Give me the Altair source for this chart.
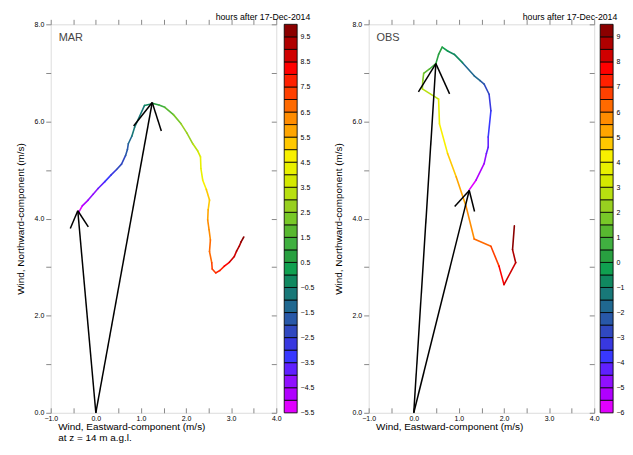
import math
import altair as alt
import pandas as pd

# ---------------- data ----------------
# MAR (model) hodograph: hours after 17-Dec-2014, eastward (u) and northward (v) wind, m/s
mar_hours = [-5.5, -5.0, -4.5, -4.1, -3.7, -3.2, -2.8, -2.5, -2.2, -1.9, -1.6, -1.3, -1.0, -0.6,
             -0.2, 0.5, 1.0, 1.5, 2.0, 2.5, 2.9, 3.3, 3.7, 4.0, 4.4, 4.7, 5.0, 5.3, 5.7,
             6.0, 6.3, 6.5, 6.8, 7.0, 7.3, 7.5, 7.9, 8.2, 8.5, 8.8, 9.1, 9.3, 9.6, 9.9]
mar_u = [-0.39, -0.30, -0.17, -0.06, 0.05, 0.20, 0.34, 0.46, 0.57, 0.66, 0.70, 0.72, 0.80, 0.86,
         1.08, 1.27, 1.40, 1.53, 1.72, 1.89, 2.02, 2.15, 2.26, 2.32, 2.33, 2.37, 2.45, 2.52, 2.49,
         2.48, 2.51, 2.54, 2.52, 2.57, 2.58, 2.66, 2.75, 2.85, 2.96, 3.07, 3.12, 3.18, 3.22, 3.28]
mar_v = [4.11, 4.26, 4.38, 4.50, 4.62, 4.76, 4.90, 5.01, 5.12, 5.30, 5.42, 5.54, 5.70, 5.88,
         6.33, 6.37, 6.34, 6.29, 6.14, 5.95, 5.76, 5.54, 5.39, 5.27, 5.03, 4.79, 4.60, 4.38, 4.18,
         3.97, 3.77, 3.56, 3.32, 3.09, 2.96, 2.88, 2.93, 3.02, 3.10, 3.22, 3.33, 3.43, 3.52, 3.62]

# OBS (observed) hodograph
obs_hours = [-6.0, -5.3, -4.8, -4.5, -4.2, -4.0, -3.3, -2.8, -2.4, -2.0, -1.6, -1.0, -0.6, -0.3,
             0.0, 0.3, 0.6, 1.0, 1.5, 2.0, 2.8, 3.8, 4.2, 4.6, 5.2, 5.8, 6.4, 6.8, 7.5, 8.0,
             8.5, 9.0, 9.5]
obs_u = [1.23, 1.38, 1.56, 1.61, 1.65, 1.65, 1.71, 1.67, 1.56, 1.47, 1.34, 1.08, 0.90, 0.75,
         0.63, 0.55, 0.49, 0.35, 0.22, 0.20, 0.19, 0.55, 0.57, 0.75, 0.94, 1.16, 1.34, 1.71, 1.89,
         2.00, 2.26, 2.19, 2.23]
obs_v = [4.59, 4.79, 5.13, 5.34, 5.47, 5.68, 6.22, 6.56, 6.77, 6.84, 6.94, 7.21, 7.38, 7.45,
         7.53, 7.38, 7.19, 7.08, 6.99, 6.84, 6.67, 6.46, 5.95, 5.34, 4.86, 4.25, 3.58, 3.43, 3.02,
         2.64, 3.09, 3.36, 3.85]

# wind vectors drawn from the origin (tip u, tip v)
mar_arrow_u = [-0.40, 1.25]
mar_arrow_v = [4.16, 6.39]
obs_arrow_u = [0.49, 1.23]
obs_arrow_v = [7.19, 4.58]

# colour-bar levels (box edges) and colours (bottom -> top)
mar_levels = [-5.5, -5.0, -4.5, -4.0, -3.5, -3.0, -2.5, -2.0, -1.5, -1.0, -0.5, 0.0, 0.5, 1.0,
              1.5, 2.0, 2.5, 3.0, 3.5, 4.0, 4.5, 5.0, 5.5, 6.0, 6.5, 7.0, 7.5, 8.0, 8.5, 9.0,
              9.5, 10.0]
obs_levels = [-6.0, -5.5, -5.0, -4.5, -4.0, -3.5, -3.0, -2.5, -2.0, -1.5, -1.0, -0.5, 0.0, 0.5,
              1.0, 1.5, 2.0, 2.5, 3.0, 3.5, 4.0, 4.5, 5.0, 5.5, 6.0, 6.5, 7.0, 7.5, 8.0, 8.5,
              9.0, 9.5]
mar_cbar_labels = [-5.5, -4.5, -3.5, -2.5, -1.5, -0.5, 0.5, 1.5, 2.5, 3.5, 4.5, 5.5, 6.5, 7.5,
                   8.5, 9.5]
obs_cbar_labels = [-6, -5, -4, -3, -2, -1, 0, 1, 2, 3, 4, 5, 6, 7, 8, 9]
colors = ["#e000ff", "#b000ff", "#9010ff", "#6020ff", "#3838ff", "#3838e0", "#3048c0",
          "#2858a8", "#206890", "#187878", "#108860", "#10a050", "#28a040", "#40b040",
          "#58b830", "#78c828", "#98d020", "#b8e010", "#d4e800", "#e8f000", "#f8f000",
          "#ffc800", "#ffa500", "#ff8c00", "#ff6a00", "#ff4000", "#ff2000", "#ff0000",
          "#d00000", "#b00000", "#8b0000"]

x_ticks_major = [-1, 0, 1, 2, 3, 4]
x_ticks_minor = [-1, -0.5, 0, 0.5, 1, 1.5, 2, 2.5, 3, 3.5, 4]
y_ticks = [0, 1, 2, 3, 4, 5, 6, 7, 8]

# ---------------- layout ----------------
W, H = 227, 391
CBW = 13
FONT = "Liberation Sans"
XDOM = [-1, 4]
YDOM = [0, 8]
HEAD_FRAC = 0.095
HEAD_ANGLE = math.radians(28)


def level_color(t, levels):
    idx = 0
    for k in range(len(levels) - 1):
        if t >= levels[k]:
            idx = k
    return colors[idx]


def arrow_frames(tu, tv):
    sx = W / (XDOM[1] - XDOM[0])
    sy = H / (YDOM[1] - YDOM[0])
    shafts = pd.DataFrame({"u": [0.0] * len(tu), "v": [0.0] * len(tu), "u2": tu, "v2": tv})
    rows = []
    for a, b in zip(tu, tv):
        px, py = a * sx, b * sy
        L = math.hypot(px, py)
        h = HEAD_FRAC * L
        rx, ry = -px / L, -py / L
        for s in (1, -1):
            ang = s * HEAD_ANGLE
            hx = rx * math.cos(ang) - ry * math.sin(ang)
            hy = rx * math.sin(ang) + ry * math.cos(ang)
            rows.append({"u": a, "v": b, "u2": a + h * hx / sx, "v2": b + h * hy / sy})
    return shafts, pd.DataFrame(rows)


def panel(hours, u, v, tu, tv, levels, name, xtitle, text_dx):
    xs = alt.Scale(domain=XDOM, nice=False, zero=False)
    ys = alt.Scale(domain=YDOM, nice=False, zero=False)
    seg = pd.DataFrame({"u": u[:-1], "v": v[:-1], "u2": u[1:], "v2": v[1:],
                        "c": [level_color(t, levels) for t in hours[:-1]]})

    curve = alt.Chart(seg).mark_rule(strokeWidth=1.6, strokeCap="round").encode(
        x=alt.X("u:Q", scale=xs, axis=alt.Axis(
            orient="bottom", values=x_ticks_major, format=".1f", tickSize=0, labelPadding=2,
            labelFontSize=7, labelFont=FONT, labelFlush=False, domain=False, grid=False,
            title=xtitle, titleFont=FONT, titleFontSize=10, titleFontWeight="normal",
            titleAlign="left", titleAnchor="start", titleX=7, titleY=9,
            titleBaseline="top", titleLineHeight=11)),
        y=alt.Y("v:Q", scale=ys, axis=alt.Axis(
            orient="left", values=y_ticks,
            labelExpr="datum.value % 2 === 0 ? format(datum.value, '.1f') : ''",
            tickSize=5, labelPadding=2, labelFontSize=7, labelFont=FONT, labelFlush=False,
            domain=False, grid=False, title="Wind, Northward-component (m/s)", titleFont=FONT,
            titleFontSize=10, titleFontWeight="normal", titlePadding=9)),
        x2="u2:Q", y2="v2:Q",
        color=alt.Color("c:N", scale=None),
    )

    shafts, heads = arrow_frames(tu, tv)
    shaft_layer = alt.Chart(shafts).mark_rule(color="black", strokeWidth=1.5).encode(
        x=alt.X("u:Q", scale=xs, axis=alt.Axis(
            orient="top", offset=-H, values=x_ticks_minor, labels=False, tickSize=5,
            domain=False, grid=False, title=None)),
        y=alt.Y("v:Q", scale=ys, axis=alt.Axis(
            orient="left", offset=-W, values=y_ticks, labels=False, tickSize=5,
            domain=False, grid=False, title=None)),
        x2="u2:Q", y2="v2:Q",
    )
    head_layer = alt.Chart(heads).mark_rule(color="black", strokeWidth=1.5).encode(
        x=alt.X("u:Q", scale=xs, axis=alt.Axis(
            orient="top", values=x_ticks_minor, labels=False, tickSize=5,
            domain=False, grid=False, title=None)),
        y=alt.Y("v:Q", scale=ys, axis=None),
        x2="u2:Q", y2="v2:Q",
    )
    label = alt.Chart(pd.DataFrame({"t": [name]})).mark_text(
        align="left", baseline="alphabetic", font=FONT, fontSize=11, color="#444444"
    ).encode(text="t:N", x=alt.value(8), y=alt.value(17))
    hours_txt = alt.Chart(pd.DataFrame({"t": ["hours after 17-Dec-2014"]})).mark_text(
        align="left", baseline="alphabetic", font=FONT, fontSize=8.8, color="black"
    ).encode(text="t:N", x=alt.value(text_dx), y=alt.value(-4))

    return alt.layer(curve, shaft_layer, head_layer, label, hours_txt).resolve_axis(
        x="independent", y="independent"
    ).properties(width=W, height=H)


def colorbar(levels, label_values, fmt):
    df = pd.DataFrame({"lo": levels[:-1], "hi": levels[1:], "c": colors})
    return alt.Chart(df).mark_rect(stroke="black", strokeWidth=0.8).encode(
        y=alt.Y("lo:Q", scale=alt.Scale(domain=[levels[0], levels[-1]], nice=False, zero=False),
                axis=alt.Axis(orient="right", values=label_values, format=fmt, ticks=False,
                              domain=False, grid=False, labelPadding=3, labelFontSize=7,
                              labelFont=FONT, labelFlush=False, title=None)),
        y2="hi:Q",
        x=alt.value(0), x2=alt.value(CBW),
        color=alt.Color("c:N", scale=None),
    ).properties(width=CBW, height=H)


left = alt.hconcat(
    panel(mar_hours, mar_u, mar_v, mar_arrow_u, mar_arrow_v, mar_levels, "MAR",
          ["Wind, Eastward-component (m/s)", "at z = 14 m a.g.l."], 166),
    colorbar(mar_levels, mar_cbar_labels, ".1f"),
    spacing=8, bounds="flush",
)
right = alt.hconcat(
    panel(obs_hours, obs_u, obs_v, obs_arrow_u, obs_arrow_v, obs_levels, "OBS",
          "Wind, Eastward-component (m/s)", 155),
    colorbar(obs_levels, obs_cbar_labels, "d"),
    spacing=6, bounds="flush",
)

chart = alt.hconcat(left, right, spacing=17).properties(
    padding={"left": 6, "top": 3, "right": 0, "bottom": 0}
).configure_view(stroke="black", strokeWidth=1).configure(background="white")

chart.save("out.html", embed_options={"renderer": "svg", "actions": False})
